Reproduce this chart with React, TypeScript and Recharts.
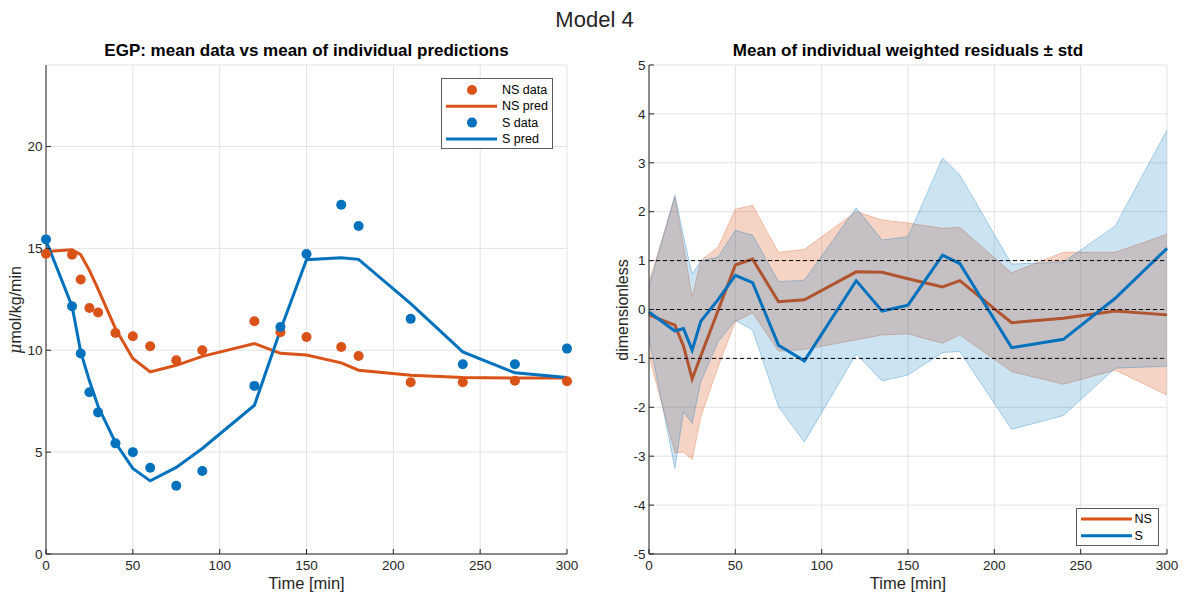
import React from 'react';
import {
  ComposedChart,
  Line,
  Area,
  XAxis,
  YAxis,
  CartesianGrid,
  ReferenceLine,
  Legend,
} from 'recharts';

// ---------- data ----------
const TIMES = [0, 15, 20, 25, 30, 40, 50, 60, 75, 90, 120, 135, 150, 170, 180, 210, 240, 270, 300];

// Left panel: EGP
const NS_DATA = [14.74, 14.69, 13.47, 12.07, 11.85, 10.85, 10.69, 10.2, 9.51, 10.0, 11.42, 10.88, 10.65, 10.16, 9.72, 8.43, 8.43, 8.5, 8.48];
const NS_PRED = [14.85, 14.93, 14.69, 13.92, 13.0, 11.06, 9.6, 8.94, 9.26, 9.7, 10.33, 9.85, 9.77, 9.38, 9.02, 8.77, 8.66, 8.64, 8.64];
const S_DATA = [15.44, 12.16, 9.84, 7.94, 6.95, 5.43, 5.0, 4.23, 3.35, 4.07, 8.25, 11.14, 14.72, 17.14, 16.1, 11.54, 9.31, 9.31, 10.08];
const S_PRED = [15.39, 12.16, 9.92, 8.5, 7.25, 5.46, 4.2, 3.59, 4.25, 5.18, 7.3, 10.99, 14.44, 14.54, 14.46, 12.29, 9.92, 8.89, 8.66];

// Right panel: weighted residuals
const NS_MEAN = [-0.11, -0.32, -0.75, -1.42, -0.95, -0.02, 0.91, 1.03, 0.16, 0.2, 0.77, 0.76, 0.63, 0.46, 0.59, -0.27, -0.18, -0.03, -0.11];
const NS_HI = [0.55, 2.3, 1.3, 0.26, 1.0, 1.28, 2.05, 2.13, 1.17, 1.23, 2.0, 1.83, 1.77, 1.66, 1.68, 0.75, 1.17, 1.17, 1.54];
const NS_LO = [-0.95, -2.93, -2.92, -3.07, -2.2, -1.17, -0.25, -0.07, -0.85, -0.82, -0.62, -0.52, -0.5, -0.69, -0.52, -1.27, -1.53, -1.24, -1.75];
const S_MEAN = [-0.05, -0.44, -0.39, -0.83, -0.24, 0.2, 0.7, 0.55, -0.73, -1.05, 0.59, -0.03, 0.09, 1.11, 0.94, -0.78, -0.61, 0.23, 1.25];
const S_HI = [0.46, 2.34, 1.5, 0.72, 1.0, 1.07, 1.62, 1.52, 0.57, 0.6, 2.08, 1.42, 1.49, 3.1, 2.75, 0.93, 0.97, 1.71, 3.67];
const S_LO = [-0.59, -3.25, -2.09, -2.33, -1.48, -0.66, -0.22, -0.42, -1.99, -2.71, -0.91, -1.46, -1.34, -0.88, -0.86, -2.45, -2.17, -1.2, -1.16];

const X_TICKS = [0, 50, 100, 150, 200, 250, 300];
const LEFT_Y_TICKS = [0, 5, 10, 15, 20];
const RIGHT_Y_TICKS = [-5, -4, -3, -2, -1, 0, 1, 2, 3, 4, 5];
const DASHED_LEVELS = [-1, 0, 1];

const LEFT_LEGEND = ['NS data', 'NS pred', 'S data', 'S pred'];
const RIGHT_LEGEND = ['NS', 'S'];

// ---------- styles ----------
const ORANGE = '#D95319';
const NS_MEAN_COLOR = '#B0532F';
const BLUE = '#0072BD';
const AXIS = '#262626';
const GRID = '#E3E3E3';
const FONT = '"Liberation Sans", Arial, Helvetica, sans-serif';

const leftRows = TIMES.map((t, i) => ({
  t,
  nsData: NS_DATA[i],
  nsPred: NS_PRED[i],
  sData: S_DATA[i],
  sPred: S_PRED[i],
}));

const rightRows = TIMES.map((t, i) => ({
  t,
  nsMean: NS_MEAN[i],
  nsBand: [NS_LO[i], NS_HI[i]],
  sMean: S_MEAN[i],
  sBand: [S_LO[i], S_HI[i]],
}));

const tickStyle = { fill: AXIS, fontSize: 13.5, fontFamily: FONT };

const LeftLegend = () => (
  <svg width={113} height={72} style={{ display: 'block' }}>
    <rect x={0.5} y={0.5} width={111} height={70} fill="#fff" stroke="#5a5a5a" strokeWidth={1} />
    {LEFT_LEGEND.map((name, i) => {
      const y = 12 + i * 16.3;
      const color = i < 2 ? ORANGE : BLUE;
      const isDot = i % 2 === 0;
      return (
        <g key={name}>
          {isDot ? (
            <circle cx={31} cy={y} r={5} fill={color} />
          ) : (
            <line x1={5} x2={56} y1={y} y2={y} stroke={color} strokeWidth={3} />
          )}
          <text x={61} y={y} dominantBaseline="central" fontSize={12.5} fontFamily={FONT} fill="#000">
            {name}
          </text>
        </g>
      );
    })}
  </svg>
);

const RightLegend = () => (
  <svg width={84} height={39} style={{ display: 'block' }}>
    <rect x={0.5} y={0.5} width={82} height={37} fill="#fff" stroke="#5a5a5a" strokeWidth={1} />
    {RIGHT_LEGEND.map((name, i) => {
      const y = 11 + i * 16.7;
      const color = i === 0 ? ORANGE : BLUE;
      return (
        <g key={name}>
          <line x1={5} x2={56} y1={y} y2={y} stroke={color} strokeWidth={3} />
          <text x={58.5} y={y} dominantBaseline="central" fontSize={12.5} fontFamily={FONT} fill="#000">
            {name}
          </text>
        </g>
      );
    })}
  </svg>
);

// Axes for one panel: bottom + left with labels, top + right as box with inward ticks
const PanelAxes = (yDomain: number[], yTicks: number[], yWidth: number) => [
  <XAxis
    key="xb"
    dataKey="t"
    type="number"
    domain={[0, 300]}
    ticks={X_TICKS}
    height={47}
    tickSize={-5}
    tickMargin={11}
    tick={tickStyle}
    stroke={AXIS}
    interval={0}
    label={{ value: 'Time [min]', position: 'insideBottom', offset: 12, fill: AXIS, fontSize: 16.5, fontFamily: FONT }}
  />,
  <XAxis
    key="xt"
    xAxisId="top"
    orientation="top"
    dataKey="t"
    type="number"
    domain={[0, 300]}
    ticks={X_TICKS}
    height={0}
    tickSize={-5}
    tick={false}
    stroke={AXIS}
    interval={0}
  />,
  <YAxis
    key="yl"
    type="number"
    domain={yDomain}
    ticks={yTicks}
    width={yWidth}
    tickSize={-5}
    tickMargin={8.5}
    tick={tickStyle}
    stroke={AXIS}
    interval={0}
  />,
  <YAxis
    key="yr"
    yAxisId="right"
    orientation="right"
    type="number"
    domain={yDomain}
    ticks={yTicks}
    width={0}
    tickSize={-5}
    tick={false}
    stroke={AXIS}
    interval={0}
  />,
];

export default function App() {
  return (
    <div
      style={{
        position: 'absolute',
        left: 0,
        top: 0,
        width: 1189,
        height: 601,
        background: '#fff',
        fontFamily: FONT,
        overflow: 'hidden',
      }}
    >
      {/* super title */}
      <div style={{ position: 'absolute', left: 0, width: 1189, top: 7, textAlign: 'center', fontSize: 22, color: '#262626' }}>
        Model 4
      </div>

      {/* left title */}
      <div style={{ position: 'absolute', left: 46, width: 521, top: 41, textAlign: 'center', fontSize: 17, fontWeight: 'bold', color: '#000' }}>
        EGP: mean data vs mean of individual predictions
      </div>
      {/* right title */}
      <div style={{ position: 'absolute', left: 649, width: 518, top: 41, textAlign: 'center', fontSize: 17, fontWeight: 'bold', color: '#000' }}>
        Mean of individual weighted residuals ± std
      </div>

      {/* left chart */}
      <div style={{ position: 'absolute', left: 0, top: 0 }}>
        <ComposedChart width={600} height={601} data={leftRows} margin={{ top: 65, right: 33, bottom: 0, left: 0 }}>
          <CartesianGrid stroke={GRID} strokeWidth={1} />
          {PanelAxes([0, 24], LEFT_Y_TICKS, 46)}
          <Line dataKey="nsData" type="linear" stroke="none" strokeWidth={0} dot={{ r: 5, fill: ORANGE, stroke: 'none' }} activeDot={false} isAnimationActive={false} />
          <Line dataKey="nsPred" type="linear" stroke={ORANGE} strokeWidth={3} dot={false} activeDot={false} isAnimationActive={false} />
          <Line dataKey="sData" type="linear" stroke="none" strokeWidth={0} dot={{ r: 5, fill: BLUE, stroke: 'none' }} activeDot={false} isAnimationActive={false} />
          <Line dataKey="sPred" type="linear" stroke={BLUE} strokeWidth={3} dot={false} activeDot={false} isAnimationActive={false} />
          <Legend
            layout="horizontal"
            verticalAlign="middle"
            align="center"
            content={() => <LeftLegend />}
            wrapperStyle={{ position: 'absolute', left: 441, top: 78, width: 113, height: 72 }}
          />
        </ComposedChart>
      </div>

      {/* left y label */}
      <div
        style={{
          position: 'absolute',
          left: 16,
          top: 310,
          transform: 'translate(-50%, -50%) rotate(-90deg)',
          fontSize: 16,
          lineHeight: '18px',
          color: AXIS,
          whiteSpace: 'nowrap',
        }}
      >
        <span style={{ fontStyle: 'italic', fontFamily: '"DejaVu Serif", serif' }}>μ</span>mol/kg/min
      </div>

      {/* right chart */}
      <div style={{ position: 'absolute', left: 600, top: 0 }}>
        <ComposedChart width={589} height={601} data={rightRows} margin={{ top: 65, right: 22, bottom: 0, left: 0 }}>
          <CartesianGrid stroke={GRID} strokeWidth={1} />
          {PanelAxes([-5, 5], RIGHT_Y_TICKS, 49)}
          <Area dataKey="nsBand" type="linear" fill={ORANGE} fillOpacity={0.25} stroke={ORANGE} strokeOpacity={0.3} strokeWidth={1} dot={false} activeDot={false} isAnimationActive={false} />
          <Line dataKey="nsMean" type="linear" stroke={NS_MEAN_COLOR} strokeWidth={3} dot={false} activeDot={false} isAnimationActive={false} />
          <Area dataKey="sBand" type="linear" fill={BLUE} fillOpacity={0.2} stroke={BLUE} strokeOpacity={0.3} strokeWidth={1} dot={false} activeDot={false} isAnimationActive={false} />
          <Line dataKey="sMean" type="linear" stroke={BLUE} strokeWidth={3} dot={false} activeDot={false} isAnimationActive={false} />
          {DASHED_LEVELS.map((v) => (
            <ReferenceLine key={v} y={v} stroke="#000" strokeWidth={1} strokeDasharray="4 3" />
          ))}
          <Legend
            layout="horizontal"
            verticalAlign="middle"
            align="center"
            content={() => <RightLegend />}
            wrapperStyle={{ position: 'absolute', left: 476, top: 508, width: 84, height: 39 }}
          />
        </ComposedChart>
      </div>

      {/* right y label */}
      <div
        style={{
          position: 'absolute',
          left: 623,
          top: 310,
          transform: 'translate(-50%, -50%) rotate(-90deg)',
          fontSize: 16,
          lineHeight: '18px',
          color: AXIS,
          whiteSpace: 'nowrap',
        }}
      >
        dimensionless
      </div>
    </div>
  );
}
